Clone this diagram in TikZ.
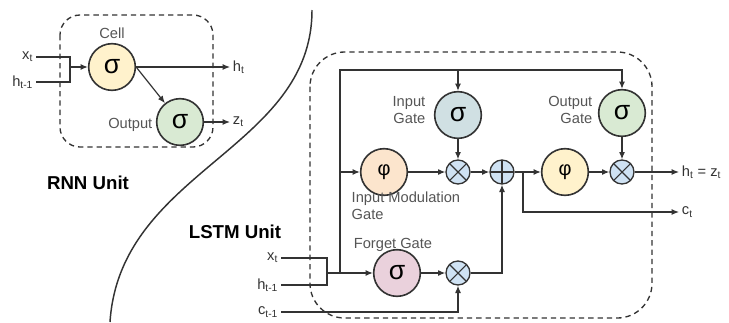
\documentclass[tikz,border=0pt]{standalone}
\usepackage{fontspec}
\setmainfont{Liberation Sans}
\usepackage{xcolor}
\usetikzlibrary{arrows.meta}

\definecolor{ln}{RGB}{51,51,51}
\definecolor{lbc}{RGB}{85,85,85}
\definecolor{cellc}{RGB}{255,242,204}
\definecolor{greenc}{RGB}{217,234,211}
\definecolor{bluec}{RGB}{208,224,227}
\definecolor{orangec}{RGB}{252,229,205}
\definecolor{pinkc}{RGB}{234,209,220}
\definecolor{opc}{RGB}{207,226,243}

\begin{document}
\begin{tikzpicture}[x=0.75pt,y=0.75pt,yscale=-1,xscale=1,
  wire/.style={draw=ln,line width=0.9pt},
  wirearr/.style={wire,-{Latex[length=5.5pt,width=4.5pt]}},
  unitbox/.style={draw=ln,line width=1pt,dash pattern=on 4pt off 3pt},
  gate/.style={circle,draw=ln,line width=1.2pt,minimum size=35pt,inner sep=0pt,font=\fontsize{20}{20}\selectfont},
  phifont/.style={font=\fontsize{15}{15}\selectfont},
  op/.style={circle,draw=ln,line width=1pt,fill=opc,minimum size=18pt,inner sep=0pt},
  timesop/.style={op,path picture={\draw[ln,line width=0.8pt] (path picture bounding box.north west) -- (path picture bounding box.south east) (path picture bounding box.south west) -- (path picture bounding box.north east);}},
  plusop/.style={op,path picture={\draw[ln,line width=0.8pt] (path picture bounding box.north) -- (path picture bounding box.south) (path picture bounding box.west) -- (path picture bounding box.east);}},
  lbl/.style={text=lbc,font=\fontsize{11}{13}\selectfont},
  io/.style={text=ln,font=\fontsize{11}{13}\selectfont,inner sep=2pt},
  ttl/.style={font=\bfseries\fontsize{14}{16}\selectfont}
]
\useasboundingbox (0,0) rectangle (729,322);

%Shape: RNN unit box
\draw [unitbox,rounded corners=15pt] (60,15) rectangle (213,147) ;
%Shape: Circle
\node [gate,fill=cellc] (cell) at (112,67) {σ};
%Shape: Circle
\node [gate,fill=greenc] (outp) at (180,122) {σ};

% Text Node
\node [lbl] (celllbl) at (112,33) {Cell};
% Text Node
\node [lbl,anchor=east] (outlbl) at (157,125) {Output};
% Text Node
\node [io,anchor=east] (rx) at (36,57) {x\textsubscript{t}};
% Text Node
\node [io,anchor=east] (rh) at (36,82) {h\textsubscript{t-1}};
% Text Node
\node [io,anchor=west] (rht) at (230,67) {h\textsubscript{t}};
% Text Node
\node [io,anchor=west] (rzt) at (230,122) {z\textsubscript{t}};

%Straight Lines
\coordinate (rj) at (70,67);
\draw [wire] (rx.east) -| (rj) |- (rh.east) ;
\draw [wirearr] (rj) -- (cell) ;
\draw [wirearr] (cell) -- (rht.west) ;
\draw [wirearr] (cell.east) -- (outp) ;
\draw [wirearr] (outp) -- (rzt.west) ;

% Text Node
\node [ttl] (rnnttl) at (88,183) {RNN Unit};
% Text Node
\node [ttl] (lstmttl) at (235,232) {LSTM Unit};

%Curve Lines
\draw [ln,line width=1.1pt] (312,10) .. controls (312,150) and (120,170) .. (110,322) ;

%Shape: LSTM unit box
\draw [unitbox,rounded corners=26pt] (310,52) rectangle (652,318) ;

%Shape: Circle
\node [gate,fill=bluec] (igate) at (458,115) {σ};
%Shape: Circle
\node [gate,fill=orangec,phifont] (imod) at (384,172) {φ};
%Shape: Circle
\node [timesop] (imul) at (458,172) {};
%Shape: Circle
\node [plusop] (csum) at (502,172) {};
%Shape: Circle
\node [gate,fill=cellc,phifont] (tphi) at (565,172) {φ};
%Shape: Circle
\node [timesop] (omul) at (622,172) {};
%Shape: Circle
\node [gate,fill=greenc] (ogate) at (622,113) {σ};
%Shape: Circle
\node [gate,fill=pinkc] (fgate) at (397,273) {σ};
%Shape: Circle
\node [timesop] (fmul) at (458,273) {};

% Text Node
\node [lbl,align=right,anchor=east] (iglbl) at (430,110) {Input\\Gate};
% Text Node
\node [lbl,align=right,anchor=east] (oglbl) at (597,110) {Output\\Gate};
% Text Node
\node [lbl,align=left,anchor=west] (imlbl) at (347,206) {Input Modulation\\Gate};
% Text Node
\node [lbl] (fglbl) at (393,245) {Forget Gate};
% Text Node
\node [io,anchor=east] (lx) at (281,258) {x\textsubscript{t}};
% Text Node
\node [io,anchor=east] (lh) at (281,285) {h\textsubscript{t-1}};
% Text Node
\node [io,anchor=east] (lc) at (281,312) {c\textsubscript{t-1}};
% Text Node
\node [io,anchor=west] (lht) at (679,172) {h\textsubscript{t} = z\textsubscript{t}};
% Text Node
\node [io,anchor=west] (lct) at (679,212) {c\textsubscript{t}};

%Straight Lines
\coordinate (lj) at (327,273);
\coordinate (ljt) at (340,273);
\coordinate (ltop) at (340,70);
\coordinate (cbr) at (523,172);
\draw [wire] (lx.east) -| (lj) |- (lh.east) ;
\draw [wirearr] (lj) -- (fgate) ;
\draw [wirearr] (ljt) -- (ltop) -| (ogate) ;
\draw [wirearr] (ltop -| igate) -- (igate) ;
\draw [wirearr] (ljt |- imod) -- (imod) ;
\draw [wirearr] (imod) -- (imul) ;
\draw [wirearr] (igate) -- (imul) ;
\draw [wirearr] (imul) -- (csum) ;
\draw [wirearr] (csum) -- (tphi) ;
\draw [wirearr] (tphi) -- (omul) ;
\draw [wirearr] (ogate) -- (omul) ;
\draw [wirearr] (fgate) -- (fmul) ;
\draw [wirearr] (lc.east) -| (fmul) ;
\draw [wirearr] (fmul) -| (csum) ;
\draw [wirearr] (omul) -- (lht.west) ;
\draw [wirearr] (cbr) |- (lct.west) ;

\end{tikzpicture}
\end{document}
